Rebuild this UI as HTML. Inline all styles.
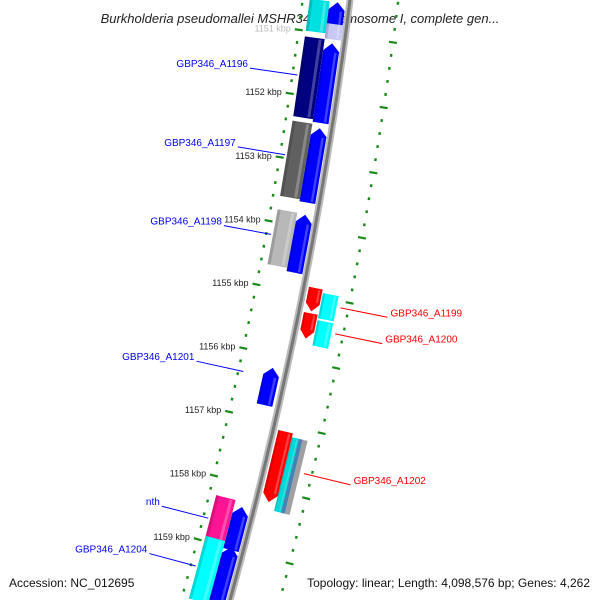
<!DOCTYPE html>
<html><head><meta charset="utf-8"><style>
html,body{margin:0;padding:0;background:#fff;}
svg{display:block;font-family:"Liberation Sans",sans-serif;}
</style></head><body>
<svg id="c" width="600" height="600" viewBox="0 0 600 600">
<text x="300" y="23" text-anchor="middle" font-size="13" font-style="italic" fill="#222">Burkholderia pseudomallei MSHR346 chromosome I, complete gen...</text>
<g id="tracks"></g>
<g id="feats"></g>
<g id="labels"></g>
<text x="9" y="587" font-size="12" fill="#111">Accession: NC_012695</text>
<text x="590" y="587" text-anchor="end" font-size="12" fill="#111">Topology: linear; Length: 4,098,576 bp; Genes: 4,262</text>
</svg>
<script>
const tickKbp=[1151,1152,1153,1154,1155,1156,1157,1158,1159];
const geneNames=["top-cyan","top-blue","top-faded","navy","blue1","darkgray","blue2","lightgray","blue3","red1","cyan1","red2","cyan2","blue4","red3","cyan3","steel3","gray3","magenta","blue5","cyan4","blue6"];
const geneStart=[1150.5,1150.5,1150.84,1151.09,1151.14,1152.41,1152.46,1153.80,1153.81,1154.88,1154.93,1155.27,1155.35,1156.20,1157.10,1157.16,1157.16,1157.16,1158.28,1158.36,1158.92,1158.98];
const geneEnd=[1151.0,1151.05,1151.08,1152.34,1152.38,1153.59,1153.62,1154.66,1154.71,1155.24,1155.32,1155.66,1155.74,1156.78,1158.19,1158.30,1158.30,1158.30,1159.34,1159.03,1159.90,1159.90];
const geneColor=["#00e0e0","#0000ff","#c8c8f4","#000080","#0000ff","#606060","#0000ff","#b8b8b8","#0000ff","#ff0000","#00ffff","#ff0000","#00ffff","#0000ff","#ff0000","#00d8d8","#4682b4","#a0a0a0","#ff1493","#0000ff","#00ffff","#0000ff"];
const geneOff1=[-40,-20,-20,-40,-20,-40,-20,-40,-20,5,20,5,20,-22,5,20,27,31,-40,-20,-40,-20];
const geneOff2=[-20,-4,-4,-20,-4,-20,-4,-20,-4,19,36,19,36,-6,20,27,31,36,-20,-4,-20,-4];
const geneDir=[0,-1,0,0,-1,0,-1,0,-1,1,0,1,0,-1,1,0,0,0,0,-1,0,-1];
const labelText=["GBP346_A1196","GBP346_A1197","GBP346_A1198","GBP346_A1201","nth","GBP346_A1204","GBP346_A1199","GBP346_A1200","GBP346_A1202"];
const labelKbp=[1151.7,1152.95,1154.2,1156.35,1158.65,1159.4,1155.1,1155.5,1157.65];
const labelSide=[-1,-1,-1,-1,-1,-1,1,1,1];

const NS="http://www.w3.org/2000/svg";
function ax(y){return 350-0.125*y-0.000125*y*y;}
function kToY(k){return 36+(k-1151)*64.4;}
function pos(k,off){const y0=kToY(k);const s=0.125+0.00025*y0;const n=Math.sqrt(1+s*s);return [ax(y0)+off/n, y0+off*s/n];}
function mk(tag,attrs,parent){const e=document.createElementNS(NS,tag);for(const a in attrs)e.setAttribute(a,attrs[a]);parent.appendChild(e);return e;}
function pts(list){return list.map(p=>{const q=pos(p[0],p[1]);return q[0].toFixed(1)+","+q[1].toFixed(1);}).join(" ");}

const tr=document.getElementById("tracks");
// axis line
let ap=[];for(let y=-5;y<=605;y+=5){ap.push(ax(y).toFixed(1)+","+y);}
const axl=mk("polyline",{points:ap.join(" "),fill:"none",stroke:"#bbb","stroke-width":7},tr);


const axl2=mk("polyline",{points:ap.join(" "),fill:"none",stroke:"#777","stroke-width":3},tr);


// ticks
for(const side of [-47,48]){
  for(let i=0;i<=48;i++){
    const k=1150.4+i*0.2;
    const major=Math.abs(k-Math.round(k))<0.01;
    const L=major?4:1.2;
    const a=pos(k,side-L),b=pos(k,side+L);
    const t=mk("line",{x1:a[0],y1:a[1],x2:b[0],y2:b[1],stroke:"#1a8a1a","stroke-width":major?2.2:2.8},tr);
    
    
  }
}
tickKbp.forEach(k=>{
  const p=pos(k,-55);
  const t=mk("text",{x:p[0],y:p[1]+3,"text-anchor":"end","font-size":"9",fill:k===1151?"#bbb":"#222"},tr);
  t.textContent=k+" kbp";
  
  
});
// genes
const fg=document.getElementById("feats");
const H=0.12;
geneStart.forEach((s,i)=>{
  const e=geneEnd[i],o1=geneOff1[i],o2=geneOff2[i],d=geneDir[i],om=(o1+o2)/2;
  let shape;
  if(d===-1) shape=[[s+H,o1],[s,om],[s+H,o2],[e,o2],[e,o1]];
  else if(d===1) shape=[[s,o1],[s,o2],[e-H,o2],[e,om],[e-H,o1]];
  else shape=[[s,o1],[s,o2],[e,o2],[e,o1]];
  const g=mk("polygon",{points:pts(shape),fill:geneColor[i]},fg);
  
  
  if(o2-o1>6){
    const w=o2-o1;
    const hl=mk("polygon",{points:pts([[s+(d===-1?H:0)+0.02,o1+w*0.7],[s+(d===-1?H:0)+0.02,o1+w*0.85],[e-(d===1?H:0)-0.02,o1+w*0.85],[e-(d===1?H:0)-0.02,o1+w*0.7]]),fill:"#fff",opacity:0.25},fg);
    
    
    const sh=mk("polygon",{points:pts([[s+(d===-1?H:0),o1],[s+(d===-1?H:0),o1+w*0.15],[e-(d===1?H:0),o1+w*0.15],[e-(d===1?H:0),o1]]),fill:"#000",opacity:0.15},fg);
    
    
  }
});
// labels
const lg=document.getElementById("labels");
labelText.forEach((t,i)=>{
  const side=labelSide[i],k=labelKbp[i];
  const col=side<0?"#0000ff":"#ff0000";
  const a=pos(k,side<0?-42:40),b=pos(k,side<0?-90:88);
  const l=mk("line",{x1:a[0],y1:a[1],x2:b[0],y2:b[1],stroke:col,"stroke-width":1},lg);
  
  
  const tx=mk("text",{x:b[0]+(side<0?-2:3),y:b[1]-1,"text-anchor":side<0?"end":"start","font-size":"10",fill:col},lg);
  tx.textContent=t;
  
  
});
</script>
</body></html>
